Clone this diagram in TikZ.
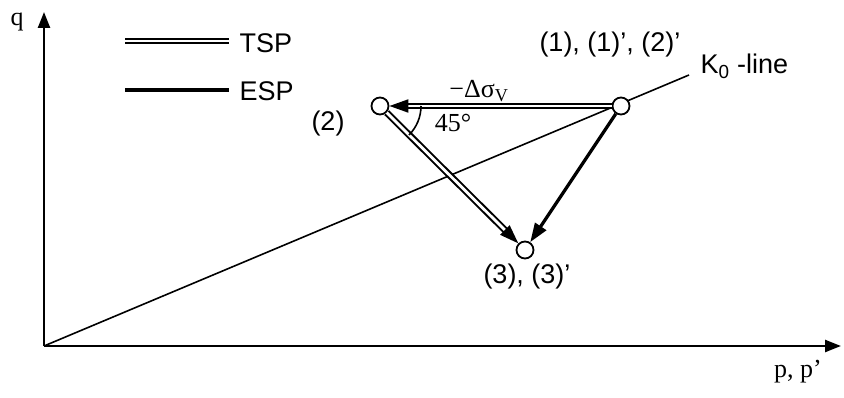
\documentclass[tikz,border=0pt]{standalone}
\usepackage{fontspec}
\setmainfont{Liberation Serif}
\newfontfamily\sansf{Liberation Sans}
\usetikzlibrary{arrows.meta}
\begin{document}
\begin{tikzpicture}[x=1pt,y=-1pt,
  axis/.style={line width=2.4pt,-{Triangle[length=16pt,width=12pt]}},
  tsp/.style={double, double distance=2.8pt, line width=2pt},
  esp/.style={line width=3.2pt},
  tip/.style={-{Triangle[length=19pt,width=13pt]}},
  pt/.style={circle, draw, fill=white, line width=1.8pt, minimum size=17pt, inner sep=0pt},
  stxt/.style={font=\sansf\fontsize{27}{31}\selectfont},
  rtxt/.style={font=\fontsize{26}{30}\selectfont}]
\useasboundingbox (0,0) rectangle (844,398);
\coordinate (O) at (44,346);
\coordinate (Ytop) at (44,12);
\coordinate (Xend) at (841,346);
\coordinate (Kend) at (689,75);
\draw[axis] (O) -- (Ytop);
\draw[axis] (O) -- (Xend);
\draw[line width=1.6pt] (O) -- (Kend);
\node[rtxt] (qlab) at (17,22) {q};
\node[rtxt] (plab) at (798,372) {p, p’};
% legend
\coordinate (l1a) at (125,41); \coordinate (l1b) at (229,41);
\coordinate (l2a) at (125,90); \coordinate (l2b) at (229,90);
\draw[tsp] (l1a) -- (l1b);
\draw[esp] (l2a) -- (l2b);
\node[stxt, anchor=west] (tspl) at (236,43) {TSP};
\node[stxt, anchor=west] (espl) at (236,91) {ESP};
% points
\node[pt] (n2) at (380,106) {};
\node[pt] (n1) at (621,106) {};
\node[pt] (n3) at (525,250) {};
\draw[tsp,tip] (n1) -- (n2);
\draw[tsp,tip] (n2) -- (n3);
\draw[esp,tip] (n1) -- (n3);
\draw[line width=1.6pt] ([shift={(0:41)}]n2.center) arc[start angle=0,end angle=45,radius=41];
% labels
\node[stxt] (l1) at (610,45) {(1), (1)’, (2)’};
\node[stxt] (l2) at (328,124) {(2)};
\node[stxt] (l3) at (527,277) {(3), (3)’};
\node[stxt, anchor=west] (lk) at (697,66) {K\textsubscript{0} -line};
\node[rtxt] (ld) at (479,91) {−Δσ\textsubscript{V}};
\node[rtxt] (la) at (453,123) {45°};
\end{tikzpicture}
\end{document}
